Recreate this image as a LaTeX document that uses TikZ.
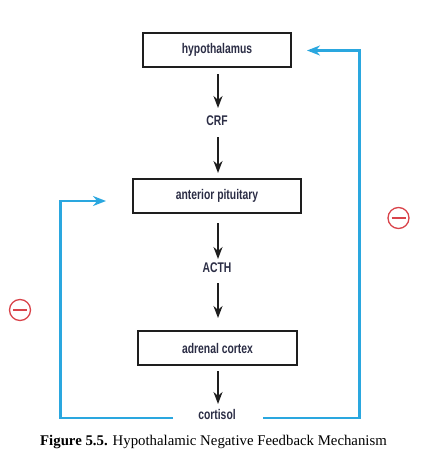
\documentclass[tikz,border=0pt]{standalone}
\usepackage{fontspec}
\setmainfont{Liberation Serif}
\newfontfamily\labfont[FakeStretch=0.74]{Liberation Sans}
\usetikzlibrary{arrows.meta}
\definecolor{fbblue}{HTML}{2AA7DF}
\definecolor{fbred}{HTML}{D9434A}
\definecolor{labcol}{HTML}{2B2D45}
\definecolor{boxcol}{HTML}{1E1E1E}
\tikzset{
  labtext/.style={font=\labfont\bfseries\fontsize{14}{16}\selectfont, text=labcol},
  stagebox/.style={labtext, draw=boxcol, line width=2.2pt, minimum height=34pt, inner sep=0pt},
  lab/.style={labtext, inner sep=0pt},
  flow/.style={draw=boxcol, line width=2.2pt, -{Stealth[length=12pt,width=9pt]}},
  fb/.style={draw=fbblue, line width=2.1pt, -{Stealth[length=13pt,width=10pt]}},
  minus/.style={circle, draw=fbred, line width=1.3pt, minimum size=21pt, inner sep=0pt},
}
\begin{document}
\begin{tikzpicture}[x=1pt,y=-1pt]
\useasboundingbox (0,0) rectangle (425,463);
\node[stagebox, minimum width=148pt] (hyp) at (217,50) {hypothalamus};
\node[lab] (crf) at (217,121) {CRF};
\node[stagebox, minimum width=168pt] (ant) at (217,196) {anterior pituitary};
\node[lab] (acth) at (217,268) {ACTH};
\node[stagebox, minimum width=159pt] (adr) at (217.5,348) {adrenal cortex};
\node[lab] (cort) at (217,414) {cortisol};

\coordinate (h1) at (218,74);
\coordinate (h2) at (218,108);
\coordinate (h3) at (218,137);
\coordinate (h4) at (218,173);
\coordinate (a1) at (218,223);
\coordinate (a2) at (218,259);
\coordinate (a3) at (218,283);
\coordinate (a4) at (218,318);
\coordinate (c1) at (218,371);
\coordinate (c2) at (218,404);
\draw[flow] (h1) -- (h2);
\draw[flow] (h3) -- (h4);
\draw[flow] (a1) -- (a2);
\draw[flow] (a3) -- (a4);
\draw[flow] (c1) -- (c2);

\coordinate (lstart) at (173,418);
\coordinate (lcorner) at (60.5,418);
\coordinate (lup) at (60.5,201);
\coordinate (ltip) at (106,201);
\draw[fb] (lstart) -- (lcorner) -- (lup) -- (ltip);

\coordinate (rstart) at (263,418);
\coordinate (rcorner) at (359.5,418);
\coordinate (rup) at (359.5,50.5);
\coordinate (rtip) at (307,50.5);
\draw[fb] (rstart) -- (rcorner) -- (rup) -- (rtip);

\node[minus] (m1) at (20,310) {};
\draw[fbred, line width=2.2pt] ([xshift=-7pt]m1.center) -- ([xshift=7pt]m1.center);
\node[minus] (m2) at (398.5,218) {};
\draw[fbred, line width=2.2pt] ([xshift=-7pt]m2.center) -- ([xshift=7pt]m2.center);

\node[anchor=base west, inner sep=0pt, font=\fontsize{14.8}{17}\selectfont] (cap) at (40,445.5) {\textbf{Figure 5.5.} Hypothalamic Negative Feedback Mechanism};
\end{tikzpicture}
\end{document}
